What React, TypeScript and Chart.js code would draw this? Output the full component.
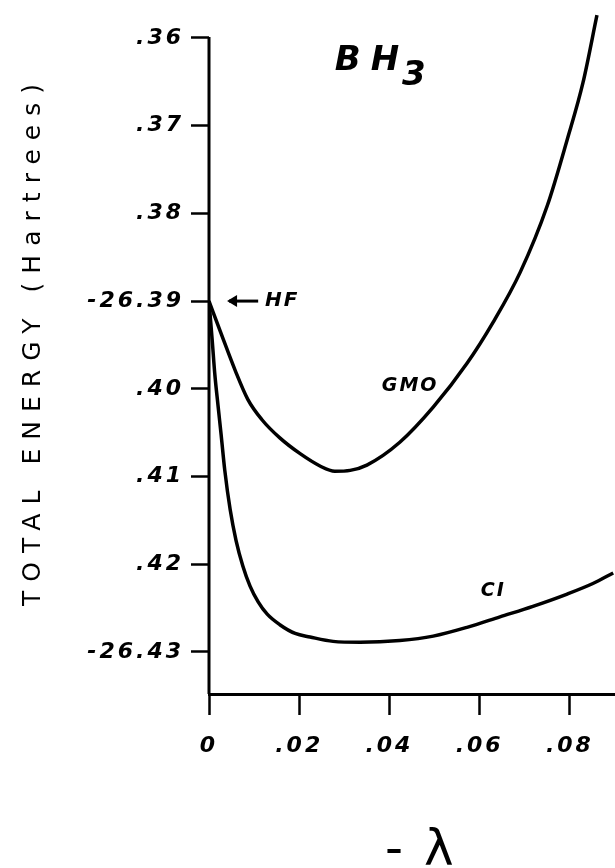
import React, { useEffect, useRef } from "react";
import { Chart, registerables } from "chart.js";

Chart.register(...registerables);

// ---- data ----
const gmoX = [0, 0.0029, 0.0058, 0.0086, 0.0117, 0.0157, 0.0202, 0.0246, 0.0279, 0.0313, 0.035, 0.0423, 0.0497, 0.0572, 0.063, 0.069, 0.075, 0.0794, 0.0829, 0.086];
const gmoY = [-26.39, -26.394, -26.3979, -26.4012, -26.4035, -26.4056, -26.4074, -26.4088, -26.4094, -26.4093, -26.4087, -26.4061, -26.4021, -26.3971, -26.3924, -26.3867, -26.3791, -26.3716, -26.3651, -26.3574];

const ciX = [0, 0.0007, 0.0013, 0.002, 0.0027, 0.0035, 0.0047, 0.006, 0.0075, 0.0091, 0.0109, 0.0129, 0.0157, 0.0191, 0.0224, 0.0275, 0.0335, 0.0423, 0.0497, 0.0572, 0.0645, 0.0718, 0.0794, 0.0851, 0.0896];
const ciY = [-26.39, -26.3944, -26.3984, -26.4019, -26.4053, -26.4093, -26.4138, -26.4173, -26.4202, -26.4225, -26.4243, -26.4257, -26.4269, -26.4279, -26.4283, -26.4288, -26.4289, -26.4287, -26.4282, -26.4272, -26.426, -26.4248, -26.4234, -26.4222, -26.421];

const xTicks = [0, 0.02, 0.04, 0.06, 0.08];
const xTickLabels = ["0", ".02", ".04", ".06", ".08"];
const yTicks = [-26.43, -26.42, -26.41, -26.4, -26.39, -26.38, -26.37, -26.36];
const yTickLabels = ["-26.43", ".42", ".41", ".40", "-26.39", ".38", ".37", ".36"];

const yTitle = "TOTAL ENERGY (Hartrees)";
const xTitle = "-λ";
const seriesNames = ["GMO", "CI"];
const moleculeMain = "BH";
const moleculeSub = "3";
const hfLabel = "HF";

// label anchor positions in data units
const gmoLabelAt = [0.0446, -26.3997];
const ciLabelAt = [0.063, -26.4231];
const hfLabelAt = [0.0124, -26.39];
const hfArrowFrom = 0.0109;
const hfArrowTo = 0.004;
const moleculeAt = [0.0279, -26.3637];
const moleculeSubAt = [0.0428, -26.3654];

const X_MIN = 0;
const X_MAX = 0.09;
const Y_MIN = -26.4348;
const Y_MAX = -26.3559;

const FONT = '"DejaVu Sans", sans-serif';

const pts = (xs: number[], ys: number[]) => xs.map((x, i) => ({ x, y: ys[i] }));

export default function App() {
  const ref = useRef<HTMLCanvasElement | null>(null);

  useEffect(() => {
    const canvas = ref.current;
    if (!canvas) return;

    const decor = {
      id: "decor",
      beforeDraw(chart: any) {
        chart.ctx.letterSpacing = "3px";
      },
      afterDraw(chart: any) {
        const ctx = chart.ctx as CanvasRenderingContext2D;
        const xs = chart.scales.x;
        const ys = chart.scales.y;
        const area = chart.chartArea;
        ctx.save();
        (ctx as any).letterSpacing = "0px";
        ctx.fillStyle = "#000";
        ctx.strokeStyle = "#000";

        // y axis line, from top tick down to the x axis
        ctx.lineWidth = 3;
        ctx.beginPath();
        ctx.moveTo(area.left, ys.getPixelForValue(yTicks[yTicks.length - 1]) - 1);
        ctx.lineTo(area.left, area.bottom);
        ctx.stroke();

        // series labels
        ctx.font = `italic bold 19px ${FONT}`;
        (ctx as any).letterSpacing = "2px";
        ctx.textAlign = "center";
        ctx.textBaseline = "middle";
        ctx.fillText(seriesNames[0], xs.getPixelForValue(gmoLabelAt[0]), ys.getPixelForValue(gmoLabelAt[1]));
        ctx.fillText(seriesNames[1], xs.getPixelForValue(ciLabelAt[0]), ys.getPixelForValue(ciLabelAt[1]));

        // HF arrow + label
        const hy = ys.getPixelForValue(hfLabelAt[1]);
        const ax0 = xs.getPixelForValue(hfArrowFrom);
        const ax1 = xs.getPixelForValue(hfArrowTo);
        ctx.lineWidth = 3;
        ctx.beginPath();
        ctx.moveTo(ax0, hy);
        ctx.lineTo(ax1 + 2, hy);
        ctx.stroke();
        ctx.beginPath();
        ctx.moveTo(ax1, hy);
        ctx.lineTo(ax1 + 10, hy - 6);
        ctx.lineTo(ax1 + 10, hy + 6);
        ctx.closePath();
        ctx.fill();
        ctx.textAlign = "left";
        ctx.font = `italic bold 20px ${FONT}`;
        ctx.fillText(hfLabel, xs.getPixelForValue(hfLabelAt[0]), hy);

        // molecule label
        ctx.textBaseline = "alphabetic";
        ctx.font = `italic bold 34px ${FONT}`;
        (ctx as any).letterSpacing = "10px";
        ctx.fillText(moleculeMain, xs.getPixelForValue(moleculeAt[0]), ys.getPixelForValue(moleculeAt[1]));
        (ctx as any).letterSpacing = "0px";
        ctx.fillText(moleculeSub, xs.getPixelForValue(moleculeSubAt[0]), ys.getPixelForValue(moleculeSubAt[1]));

        // y title (rotated)
        ctx.save();
        ctx.font = `25px ${FONT}`;
        const n = yTitle.length;
        (ctx as any).letterSpacing = "0px";
        const w0 = ctx.measureText(yTitle).width;
        const sp = Math.max(0, (522 - w0) / (n - 1));
        (ctx as any).letterSpacing = `${sp}px`;
        ctx.translate(33, (area.top + area.bottom) / 2 - 3);
        ctx.rotate(-Math.PI / 2);
        ctx.textAlign = "center";
        ctx.textBaseline = "middle";
        ctx.fillText(yTitle, sp / 2, 0);
        ctx.restore();

        // x title
        ctx.font = `50px ${FONT}`;
        (ctx as any).letterSpacing = "21px";
        ctx.textAlign = "left";
        ctx.textBaseline = "alphabetic";
        ctx.fillText(xTitle, area.left + 176, 865);

        ctx.restore();
        (ctx as any).letterSpacing = "0px";
      },
    };

    const chart = new Chart(canvas, {
      type: "line",
      data: {
        datasets: [
          {
            label: seriesNames[0],
            data: pts(gmoX, gmoY),
            borderColor: "#000",
            borderWidth: 3.5,
            pointRadius: 0,
            cubicInterpolationMode: "monotone",
            fill: false,
          },
          {
            label: seriesNames[1],
            data: pts(ciX, ciY),
            borderColor: "#000",
            borderWidth: 3.5,
            pointRadius: 0,
            cubicInterpolationMode: "monotone",
            fill: false,
          },
        ],
      },
      options: {
        responsive: false,
        animation: false,
        devicePixelRatio: 1,
        layout: { padding: { top: 2, right: 0, bottom: 0, left: 0 } },
        plugins: { legend: { display: false }, tooltip: { enabled: false }, title: { display: false } },
        scales: {
          x: {
            type: "linear",
            min: X_MIN,
            max: X_MAX,
            afterBuildTicks: (s: any) => {
              s.ticks = xTicks.map((v) => ({ value: v }));
            },
            afterFit: (s: any) => {
              s.height = 174;
              s.paddingLeft = 0;
              s.paddingRight = 0;
            },
            grid: {
              drawOnChartArea: false,
              drawTicks: true,
              tickLength: 21,
              tickWidth: 2.5,
              tickColor: "#000",
              color: "#000",
            },
            border: { display: true, color: "#000", width: 3 },
            ticks: {
              autoSkip: false,
              maxRotation: 0,
              padding: 18,
              color: "#000",
              font: { family: FONT, size: 22, style: "italic", weight: "bold" },
              callback: (v: any) => {
                const i = xTicks.findIndex((t) => Math.abs(t - Number(v)) < 1e-9);
                return i >= 0 ? xTickLabels[i] : "";
              },
            },
          },
          y: {
            type: "linear",
            min: Y_MIN,
            max: Y_MAX,
            afterBuildTicks: (s: any) => {
              s.ticks = yTicks.map((v) => ({ value: v }));
            },
            afterFit: (s: any) => {
              s.width = 209;
              s.paddingTop = 0;
              s.paddingBottom = 0;
            },
            grid: {
              drawOnChartArea: false,
              drawTicks: true,
              tickLength: 18,
              tickWidth: 2.5,
              tickColor: "#000",
              color: "#000",
            },
            border: { display: false },
            ticks: {
              autoSkip: false,
              padding: 7,
              color: "#000",
              font: { family: FONT, size: 22, style: "italic", weight: "bold" },
              callback: (v: any) => {
                const i = yTicks.findIndex((t) => Math.abs(t - Number(v)) < 1e-6);
                return i >= 0 ? yTickLabels[i] : "";
              },
            },
          },
        },
      },
      plugins: [decor],
    } as any);

    return () => chart.destroy();
  }, []);

  return (
    <div style={{ position: "fixed", left: 0, top: 0, width: 615, height: 868, background: "#fff" }}>
      <canvas ref={ref} width={615} height={868} style={{ display: "block", width: 615, height: 868 }} />
    </div>
  );
}
